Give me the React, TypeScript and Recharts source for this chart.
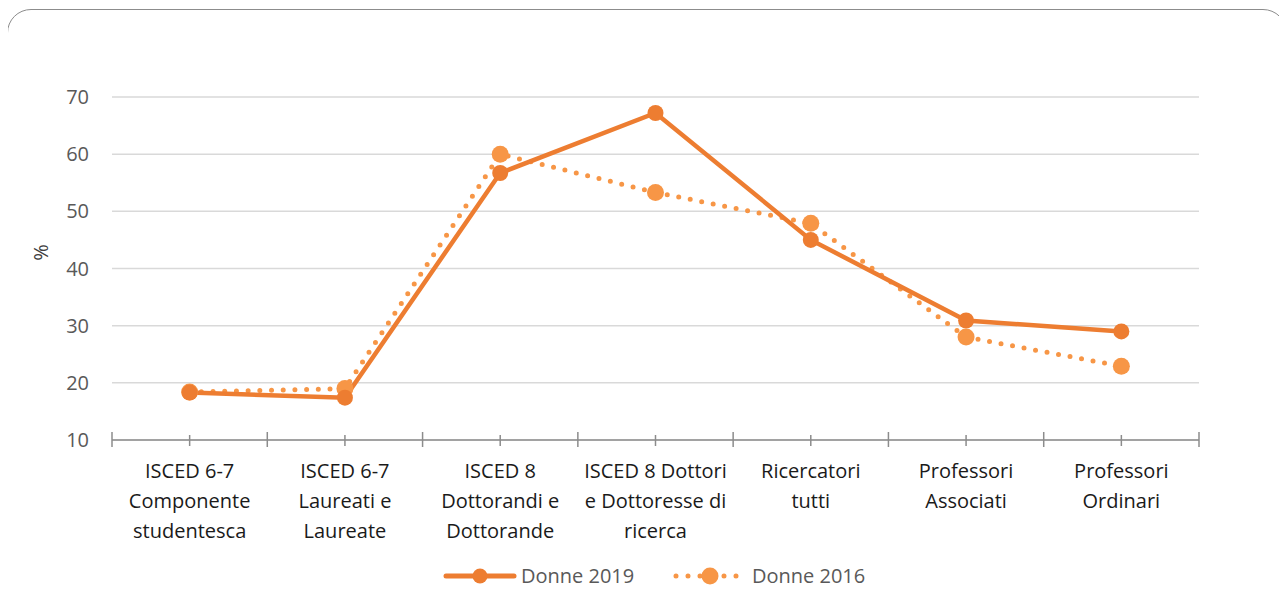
import { CartesianGrid, Line, LineChart, XAxis, YAxis } from "recharts";

const categories = [
  ["ISCED 6-7", "Componente", "studentesca"],
  ["ISCED 6-7", "Laureati e", "Laureate"],
  ["ISCED 8", "Dottorandi e", "Dottorande"],
  ["ISCED 8 Dottori", "e Dottoresse di", "ricerca"],
  ["Ricercatori", "tutti"],
  ["Professori", "Associati"],
  ["Professori", "Ordinari"],
];
const donne2019 = [18.3, 17.4, 56.7, 67.2, 45.0, 30.9, 29.0];
const donne2016 = [18.4, 19.0, 60.0, 53.3, 47.9, 28.0, 22.9];
const yTicks = [10, 20, 30, 40, 50, 60, 70];

const data = categories.map((lines, i) => ({
  name: lines.join(" "),
  lines,
  d2019: donne2019[i],
  d2016: donne2016[i],
}));

const W = 1279;
const H = 600;
const ML = 104;
const MR = 88;
const STEP = (W - ML - MR) / categories.length;
const SOLID = "#ED7D31";
const DOTTED = "#F79646";
const FONT = "'Open Sans', sans-serif";

function CatTick(props: any) {
  const { x, y, index } = props;
  const lines: string[] = data[index]?.lines ?? [];
  const last = index === data.length - 1;
  return (
    <g>
      <line x1={x} x2={x} y1={y - 5} y2={y + 6} stroke="#8c8c8c" strokeWidth={1.5} />
      <line x1={x - STEP / 2} x2={x - STEP / 2} y1={y - 8} y2={y + 7} stroke="#8c8c8c" strokeWidth={1.5} />
      {last && <line x1={x + STEP / 2} x2={x + STEP / 2} y1={y - 8} y2={y + 7} stroke="#8c8c8c" strokeWidth={1.5} />}
      <text x={x} y={y + 38} textAnchor="middle" fill="#1a1a1a" fontSize={20} fontFamily={FONT}>
        {lines.map((l, i) => (
          <tspan key={i} x={x} dy={i === 0 ? 0 : 30}>
            {l}
          </tspan>
        ))}
      </text>
    </g>
  );
}

function LegendBox() {
  return (
    <svg width={W} height={40} style={{ position: "absolute", left: 0, top: 548 }}>
      <line x1={438} x2={506} y1={20} y2={20} stroke={SOLID} strokeWidth={5} strokeLinecap="round" />
      <circle cx={472} cy={20} r={7.5} fill={SOLID} />
      <text x={513} y={27} fill="#595959" fontSize={20} fontFamily={FONT}>Donne 2019</text>
      <line x1={668} x2={730} y1={20} y2={20} stroke={DOTTED} strokeWidth={5} strokeLinecap="round" strokeDasharray="0 12" />
      <circle cx={702} cy={20} r={8.5} fill={DOTTED} />
      <text x={744} y={27} fill="#595959" fontSize={20} fontFamily={FONT}>Donne 2016</text>
    </svg>
  );
}

export default function App() {
  return (
    <div style={{ position: "relative", width: W, height: H, overflow: "hidden", background: "#fff" }}>
      <div
        style={{
          position: "absolute",
          left: -1,
          top: 1,
          width: 1280,
          height: 660,
          boxSizing: "border-box",
          border: "1.5px solid #8c8c8c",
          borderRadius: 24,
        }}
      />
      <LineChart width={W} height={H} data={data} margin={{ top: 89, right: MR, left: 0, bottom: 58 }}>
        <CartesianGrid horizontal vertical={false} stroke="#d9d9d9" strokeWidth={1.5} />
        <XAxis
          dataKey="name"
          height={110}
          padding={{ left: STEP / 2, right: STEP / 2 }}
          axisLine={{ stroke: "#8c8c8c", strokeWidth: 1.5 }}
          tickLine={false}
          tickSize={0}
          tickMargin={0}
          interval={0}
          tick={<CatTick />}
        />
        <YAxis
          width={ML}
          domain={[10, 70]}
          ticks={yTicks}
          axisLine={false}
          tickLine={false}
          tickSize={0}
          tickMargin={23}
          tick={{ fill: "#595959", fontSize: 20, fontFamily: FONT }}
          label={(p: any) => {
            const vb = p.viewBox || { y: 89, height: 343 };
            const cy = vb.y + vb.height / 2 - 16;
            return (
              <text x={40} y={cy} transform={`rotate(-90 40 ${cy})`} textAnchor="middle" fill="#404040" fontSize={20} fontFamily={FONT}>
                %
              </text>
            );
          }}
        />
        <Line
          dataKey="d2016"
          stroke={DOTTED}
          strokeWidth={5}
          strokeLinecap="round"
          strokeDasharray="0 11.7"
          dot={{ r: 8.5, fill: DOTTED, stroke: "none" }}
          activeDot={false}
          isAnimationActive={false}
        />
        <Line
          dataKey="d2019"
          stroke={SOLID}
          strokeWidth={4.5}
          dot={{ r: 8, fill: SOLID, stroke: "none" }}
          activeDot={false}
          isAnimationActive={false}
        />
      </LineChart>
      <LegendBox />
    </div>
  );
}
